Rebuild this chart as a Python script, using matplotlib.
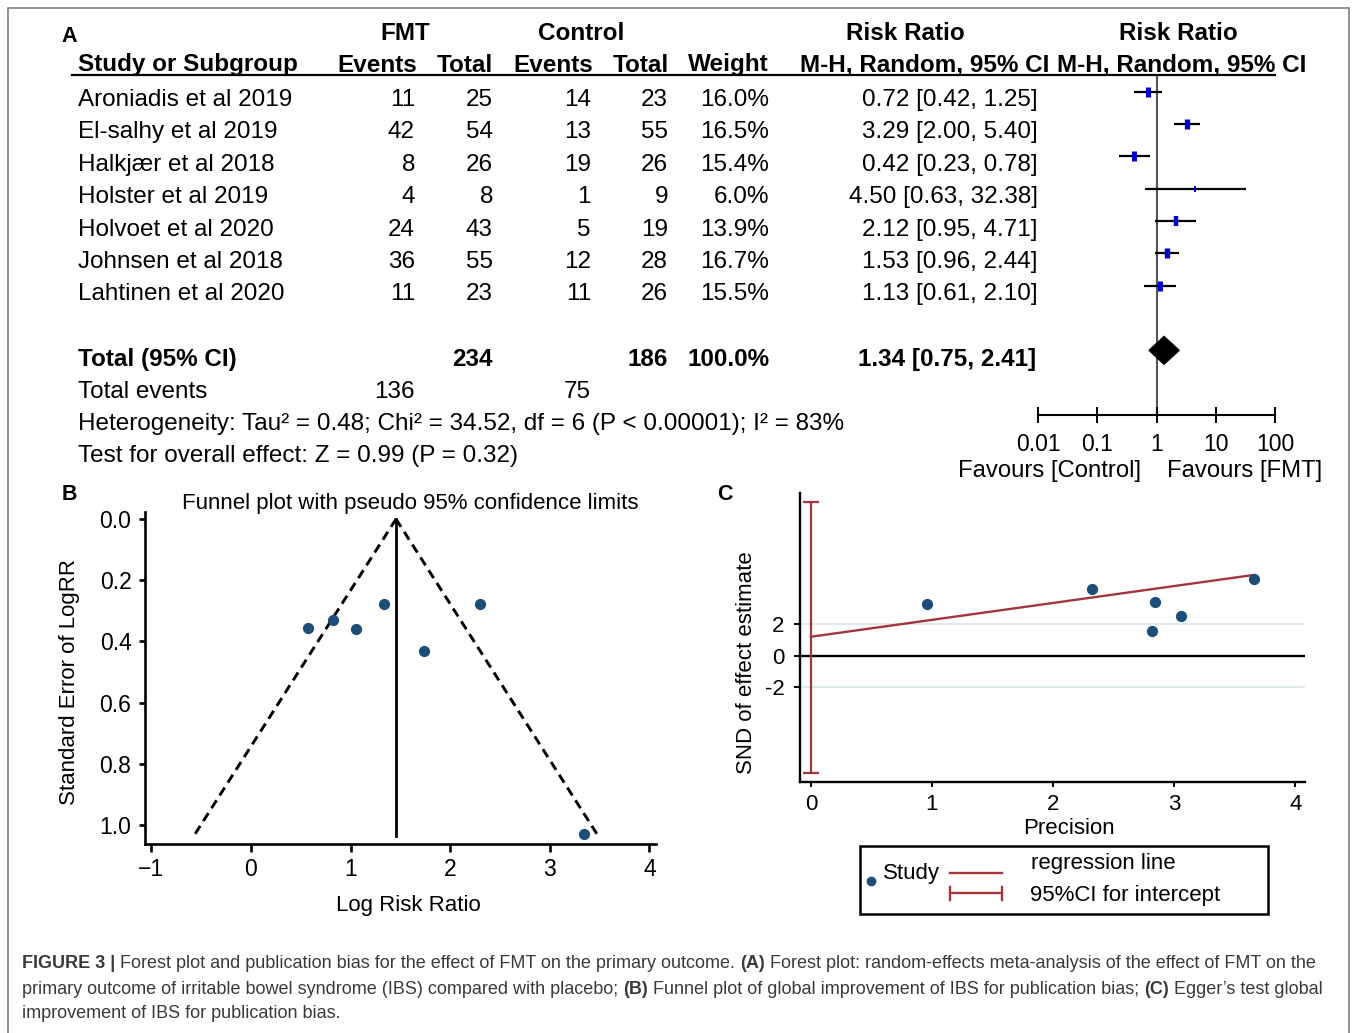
import numpy as np
import matplotlib
matplotlib.use('Agg')
import matplotlib.pyplot as plt
from matplotlib.lines import Line2D
from matplotlib.patches import Rectangle
from matplotlib import font_manager

plt.rcParams['font.family'] = ['Liberation Sans', 'DejaVu Sans']

# ---- forest plot data (panel A)
studies = ['Aroniadis et al 2019', 'El-salhy et al 2019', 'Halkjær et al 2018', 'Holster et al 2019',
           'Holvoet et al 2020', 'Johnsen et al 2018', 'Lahtinen et al 2020']
fmt_events = [11, 42, 8, 4, 24, 36, 11]
fmt_total = [25, 54, 26, 8, 43, 55, 23]
ctl_events = [14, 13, 19, 1, 5, 12, 11]
ctl_total = [23, 55, 26, 9, 19, 28, 26]
weights = [16.0, 16.5, 15.4, 6.0, 13.9, 16.7, 15.5]
rr = [0.72, 3.29, 0.42, 4.50, 2.12, 1.53, 1.13]
rr_lo = [0.42, 2.00, 0.23, 0.63, 0.95, 0.96, 0.61]
rr_hi = [1.25, 5.40, 0.78, 32.38, 4.71, 2.44, 2.10]
total_rr, total_lo, total_hi = 1.34, 0.75, 2.41
forest_ticks = [0.01, 0.1, 1, 10, 100]
forest_ticklabels = ['0.01', '0.1', '1', '10', '100']

# ---- funnel plot data (panel B)
funnel_logrr = [0.575, 0.82, 1.051, 1.335, 2.30, 1.734, 3.34]
funnel_se = [0.357, 0.330, 0.359, 0.277, 0.278, 0.432, 1.030]
funnel_center = 1.456
funnel_se_max = 1.03
funnel_xticks = [-1, 0, 1, 2, 3, 4]
funnel_yticks = [0.0, 0.2, 0.4, 0.6, 0.8, 1.0]

# ---- Egger test data (panel C)
precision = [0.958, 2.322, 2.843, 3.053, 2.816, 3.655]
snd = [3.25, 4.22, 3.40, 2.49, 1.58, 4.85]
egger_intercept = 1.20
egger_slope = 1.07
intercept_ci = (-7.4, 9.75)
egger_xticks = [0, 1, 2, 3, 4]
egger_yticks = [-2, 0, 2]
egger_yticklabels = ['-2', '0', '2']

W, H = 1357, 1033
fig = plt.figure(figsize=(W / 100, H / 100), dpi=100)
rend = fig.canvas.get_renderer()

DOT = '#1d4e7a'
RED = '#a3363c'
BLUE = '#0000cc'


def add_ax(left, top, right, bottom):
    return fig.add_axes([left / W, 1 - bottom / H, (right - left) / W, (bottom - top) / H])


def put(x, y, s, ha='left', bold=False, size=17.5, **kw):
    return fig.text(x / W, 1 - y / H, s, ha=ha, va='center', fontsize=size,
                    fontweight='bold' if bold else 'normal', **kw)


def fig_line(xs, ys, **kw):
    fig.add_artist(Line2D([x / W for x in xs], [1 - y / H for y in ys], **kw))


# outer frame
fig.add_artist(Rectangle((8 / W, -0.02), (1349 - 8) / W, 1 - 8 / H + 0.02,
                         fill=False, edgecolor='#808080', lw=1.2))

# ================= panel A: table =================
put(61, 37, 'A', bold=True, size=15.5)
put(405, 33, 'FMT', ha='center', bold=True)
put(581, 33, 'Control', ha='center', bold=True)
put(905, 33, 'Risk Ratio', ha='center', bold=True)
put(1178, 33, 'Risk Ratio', ha='center', bold=True)

put(78, 65, 'Study or Subgroup', bold=True)
for xr, s in zip([417, 493, 593, 669, 769, 1049, 1306],
                 ['Events', 'Total', 'Events', 'Total', 'Weight',
                  'M-H, Random, 95% CI', 'M-H, Random, 95% CI']):
    put(xr, 65, s, ha='right', bold=True)
fig_line([72, 1275], [75, 75], color='black', lw=1.6)

col_right = [415, 493, 591, 668, 769]
for i, name in enumerate(studies):
    y = 100 + 32.4 * i
    put(78, y, name)
    vals = [fmt_events[i], fmt_total[i], ctl_events[i], ctl_total[i], f'{weights[i]:.1f}%']
    for xr, v in zip(col_right, vals):
        put(xr, y, str(v), ha='right')
    put(1038, y, f'{rr[i]:.2f} [{rr_lo[i]:.2f}, {rr_hi[i]:.2f}]', ha='right')

y = 100 + 32.4 * 8
put(78, y, 'Total (95% CI)', bold=True)
put(493, y, str(sum(fmt_total)), ha='right', bold=True)
put(668, y, str(sum(ctl_total)), ha='right', bold=True)
put(770, y, f'{sum(weights):.1f}%', ha='right', bold=True)
put(1036, y, f'{total_rr:.2f} [{total_lo:.2f}, {total_hi:.2f}]', ha='right', bold=True)
y = 100 + 32.4 * 9
put(78, y, 'Total events')
put(415, y, str(sum(fmt_events)), ha='right')
put(591, y, str(sum(ctl_events)), ha='right')
put(78, 100 + 32.4 * 10,
    'Heterogeneity: Tau² = 0.48; Chi² = 34.52, df = 6 (P < 0.00001); I² = 83%')
put(78, 100 + 32.4 * 11, 'Test for overall effect: Z = 0.99 (P = 0.32)')

# ================= panel A: forest graphic =================
axf = add_ax(1038, 75, 1275, 415)
axf.set_xscale('log')
rows = np.arange(len(studies))
axf.axvline(1, color='#555555', lw=1.5, zorder=1)
axf.hlines(rows, rr_lo, rr_hi, color='black', lw=1.6, zorder=2)
for i in rows:
    w = weights[i]
    axf.plot(rr[i], i, marker='|', ms=(4.0 + 0.38 * w) * 0.72, mew=0.32 * w * 0.72,
             color=BLUE, zorder=3)
d = 0.43
axf.fill([total_lo, total_rr, total_hi, total_rr], [8, 8 - d, 8, 8 + d], color='black', zorder=3)
axf.set_xlim(0.01, 100)
axf.set_ylim(10, -0.52)
for s in ['top', 'left', 'right']:
    axf.spines[s].set_visible(False)
axf.spines['bottom'].set_linewidth(1.5)
axf.set_xticks(forest_ticks)
axf.set_xticklabels(forest_ticklabels)
axf.xaxis.set_minor_locator(matplotlib.ticker.NullLocator())
axf.tick_params(axis='x', direction='inout', length=11.5, width=1.4, labelsize=16.5, pad=7.5)
axf.set_yticks([])
axf.patch.set_alpha(0)
put(1050, 471, 'Favours [Control]', ha='center', size=17.2)
put(1245, 471, 'Favours [FMT]', ha='center', size=17.2)

# ================= panel B: funnel plot =================
put(62, 495, 'B', bold=True, size=15.5)
axb = add_ax(145, 511.7, 656.4, 844)
se_line = np.array([0, funnel_se_max])
axb.plot(funnel_center - 1.96 * se_line, se_line, color='black', lw=2.1, ls=(0, (3.2, 2.0)))
axb.plot(funnel_center + 1.96 * se_line, se_line, color='black', lw=2.1, ls=(0, (3.2, 2.0)))
axb.plot([funnel_center, funnel_center], [0, funnel_se_max + 0.005], color='black', lw=2.0)
axb.scatter(funnel_logrr, funnel_se, s=50, color=DOT, zorder=4, clip_on=False)
axb.set_xlim(-1.064, 4.07)
axb.set_ylim(1.062, -0.024)
axb.set_xticks(funnel_xticks)
axb.set_yticks(funnel_yticks)
axb.set_yticklabels([f'{v:.1f}' for v in funnel_yticks])
for s in ['top', 'right']:
    axb.spines[s].set_visible(False)
for s in ['left', 'bottom']:
    axb.spines[s].set_linewidth(1.9)
axb.tick_params(axis='x', length=5.8, width=1.9, labelsize=16.5, pad=4.5)
axb.tick_params(axis='y', length=4.3, width=1.9, labelsize=16.5, pad=5.5)
put(410, 503, 'Funnel plot with pseudo 95% confidence limits', ha='center', size=16)
put(408, 905, 'Log Risk Ratio', ha='center', size=16)
put(70, 682, 'Standard Error of LogRR', ha='center', size=16, rotation=90)

# ================= panel C: Egger test =================
put(717, 495, 'C', bold=True, size=15.5)
axc = add_ax(799.7, 493.3, 1305, 782.3)
axc.axhline(2, color='#dde9ec', lw=1.5, zorder=1)
axc.axhline(-2, color='#dde9ec', lw=1.5, zorder=1)
axc.axhline(0, color='black', lw=1.7, zorder=2)
reg_x = np.array([0, max(precision)])
axc.plot(reg_x, egger_intercept + egger_slope * reg_x, color=RED, lw=1.7, zorder=3)
ci_mid = (intercept_ci[0] + intercept_ci[1]) / 2
ci_half = (intercept_ci[1] - intercept_ci[0]) / 2
axc.errorbar([0], [ci_mid], yerr=[[ci_half], [ci_half]], fmt='none', ecolor=RED,
             elinewidth=1.6, capsize=5.5, capthick=1.6, zorder=3)
axc.scatter(precision, snd, s=50, color=DOT, zorder=4)
axc.set_xlim(-0.092, 4.08)
axc.set_ylim(-8.01, 10.28)
axc.set_xticks(egger_xticks)
axc.set_yticks(egger_yticks)
axc.set_yticklabels(egger_yticklabels)
for s in ['top', 'right']:
    axc.spines[s].set_visible(False)
for s in ['left', 'bottom']:
    axc.spines[s].set_linewidth(1.7)
axc.tick_params(axis='x', length=3.6, width=1.4, labelsize=16, pad=5)
axc.tick_params(axis='y', length=4.3, width=1.4, labelsize=16, pad=6.5)
put(1069, 829, 'Precision', ha='center', size=16)
put(747, 663, 'SND of effect estimate', ha='center', size=16, rotation=90)

# legend box
fig.add_artist(Rectangle((860 / W, 1 - 914 / H), (1268 - 860) / W, (914 - 846) / H,
                         fill=False, edgecolor='black', lw=1.8))
fig.add_artist(Line2D([870.7 / W], [1 - 880.7 / H], marker='o', ms=6, color=DOT, ls='none'))
put(883, 873, 'Study', size=16)
fig_line([950, 1002], [872.7, 872.7], color=RED, lw=1.7)
fig_line([950, 1002], [892.7, 892.7], color=RED, lw=1.7)
fig_line([950, 950], [886.5, 899.5], color=RED, lw=1.7)
fig_line([1002, 1002], [886.5, 899.5], color=RED, lw=1.7)
put(1031, 864, 'regression line', size=16)
put(1030, 896, '95%CI for intercept', size=16)

# ================= caption =================
names = {f.name for f in font_manager.fontManager.ttflist}
cap_family = ['Liberation Sans Narrow', 'Liberation Sans'] if 'Liberation Sans Narrow' in names \
    else ['Liberation Sans']
CAP = '#3a3a3a'


def text_width(s, size, bold=False):
    t = fig.text(0, 0, s, fontsize=size, fontweight='bold' if bold else 'normal', family=cap_family)
    w = t.get_window_extent(renderer=rend).width
    t.remove()
    return w


def line_width(parts, size):
    gap = text_width('a a', size) - text_width('aa', size)
    return sum(text_width(s, size, b) for s, b in parts) + gap * (len(parts) - 1)


def rich_line(x, y, parts, size):
    gap = text_width('a a', size) - text_width('aa', size)
    for k, (s, b) in enumerate(parts):
        if k:
            x += gap
        t = fig.text(x / W, 1 - y / H, s, fontsize=size, fontweight='bold' if b else 'normal',
                     family=cap_family, color=CAP, va='center')
        x += t.get_window_extent(renderer=rend).width


cap1 = [('FIGURE 3 |', True),
        ('Forest plot and publication bias for the effect of FMT on the primary outcome.', False),
        ('(A)', True),
        ('Forest plot: random-effects meta-analysis of the effect of FMT on the', False)]
cap2 = [('primary outcome of irritable bowel syndrome (IBS) compared with placebo;', False),
        ('(B)', True),
        ('Funnel plot of global improvement of IBS for publication bias;', False),
        ('(C)', True),
        ('Egger’s test global', False)]
cap3 = [('improvement of IBS for publication bias.', False)]

cap_size = 10 * 1302 / line_width(cap1, 10)
rich_line(22, 963, cap1, cap_size)
rich_line(22, 989, cap2, cap_size)
rich_line(22, 1014, cap3, cap_size)

fig.savefig('out.png', dpi=100)
